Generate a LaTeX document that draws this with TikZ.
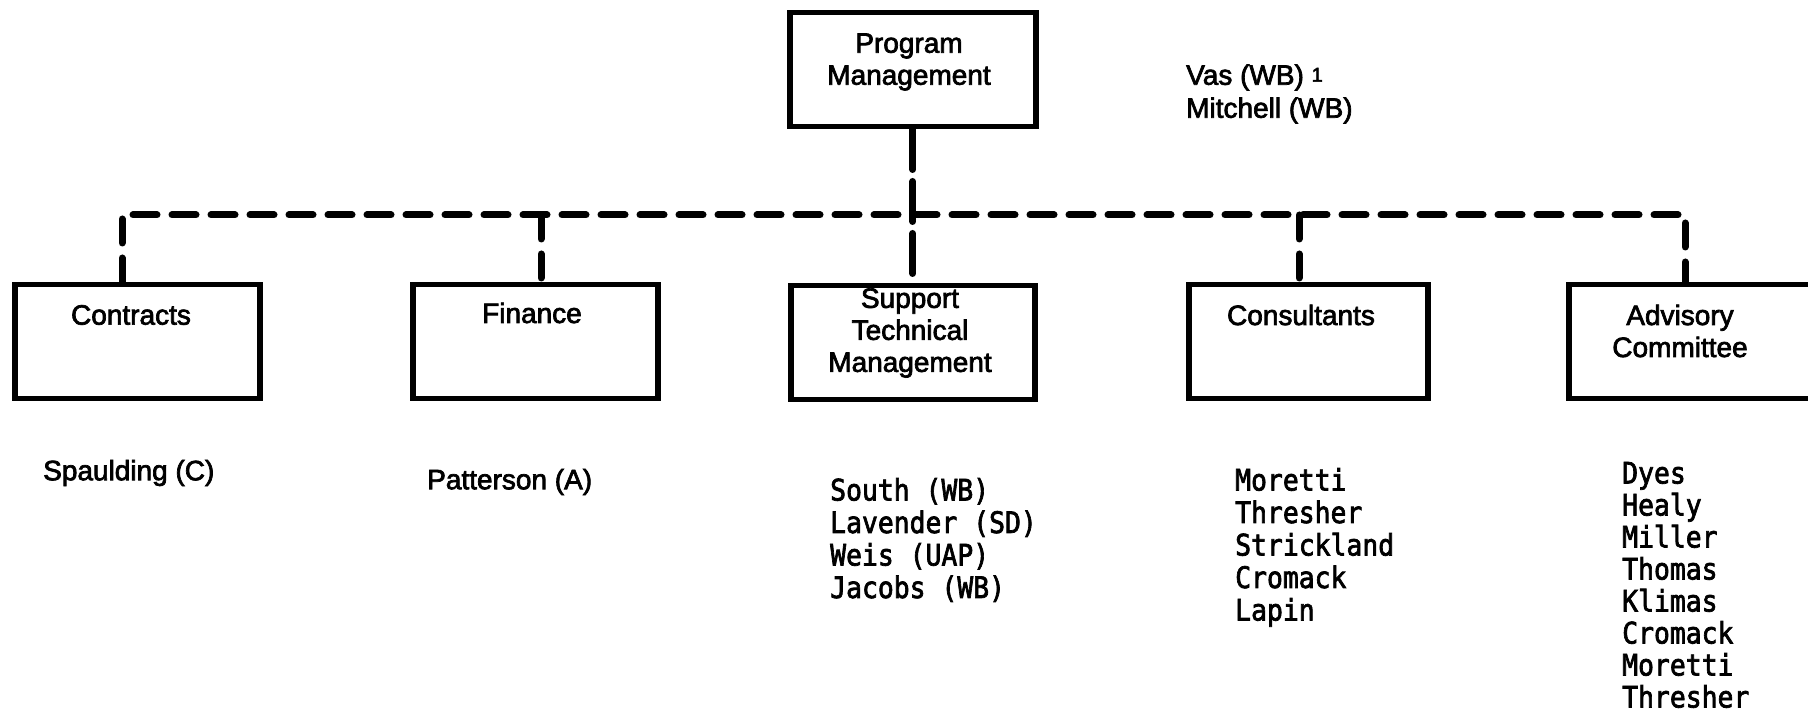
\documentclass[tikz,border=0pt]{standalone}
\usepackage{fontspec}
\setmainfont{Liberation Sans}
\newfontfamily\sanb{Liberation Sans}[FakeBold=2.5]
\newfontfamily\monof{DejaVu Sans Mono}[FakeBold=2.5]
\begin{document}
\begin{tikzpicture}[x=1pt,y=1pt,
  orgbox/.style={draw, line width=5.5pt, minimum width=#1, minimum height=114pt, anchor=north west, inner sep=0pt},
  lbl/.style={font=\fontsize{28}{32}\sanb, inner sep=0pt, align=center},
  lbll/.style={font=\fontsize{28}{33}\sanb, inner sep=0pt, align=left},
  mono/.style={font=\fontsize{26.4}{32}\monof, inner sep=0pt, anchor=base west},
  bus/.style={line width=7pt, line cap=round, dash pattern=on 24pt off 15pt}]
\useasboundingbox (0,0) rectangle (1808,711);
% boxes
\node[orgbox=246] (program) at (787,701) {};
\node[orgbox=245] (contracts) at (12,429) {};
\node[orgbox=245] (finance) at (410,429) {};
\node[orgbox=244] (support) at (788,428) {};
\node[orgbox=239] (consult) at (1186,429) {};
\node[orgbox=272] (advisory) at (1566,429) {};
% box texts
\node[lbl] (programT) at (909,649) {Program\\Management};
\node[lbl] (contractsT) at (131,396) {Contracts};
\node[lbl] (financeT) at (532,398) {Finance};
\node[lbl] (supportT) at (910,378) {Support\\Technical\\Management};
\node[lbl] (consultT) at (1301,396) {Consultants};
\node[lbl] (advisoryT) at (1680,380) {Advisory\\Committee};
% connectors
\coordinate (busL) at (122,496);
\coordinate (busR) at (1685,496);
\coordinate (busF) at (541,496);
\coordinate (busC) at (1299,496);
\draw[bus] (busL |- contracts.north) -- (busL) -- (busR) -- (busR |- advisory.north);
\draw[bus] (busF) -- (busF |- finance.north);
\draw[bus] (busC) -- (busC |- consult.north);
\draw[bus, dash pattern=on 40pt off 12pt] (program.south) -- (support.north);
% side texts
\node[lbll, anchor=west] (vas) at (1186,617) {Vas (WB) \raisebox{3pt}{\fontsize{20}{20}\selectfont 1}\\Mitchell (WB)};
\node[lbll, anchor=west] (spaulding) at (43,238) {Spaulding (C)};
\node[lbll, anchor=west] (patterson) at (427,229) {Patterson (A)};
% lists
\foreach \t [count=\i from 0] in {South (WB),Lavender (SD),Weis (UAP),Jacobs (WB)}
  \node[mono] (s\i) at (830,210.5-32.5*\i) {\scalebox{1}[1.12]{\t}};
\foreach \t [count=\i from 0] in {Moretti,Thresher,Strickland,Cromack,Lapin}
  \node[mono] (c\i) at (1235,220.5-32.5*\i) {\scalebox{1}[1.12]{\t}};
\foreach \t [count=\i from 0] in {Dyes,Healy,Miller,Thomas,Klimas,Cromack,Moretti,Thresher}
  \node[mono] (a\i) at (1622,227.5-32*\i) {\scalebox{1}[1.12]{\t}};
\end{tikzpicture}
\end{document}
